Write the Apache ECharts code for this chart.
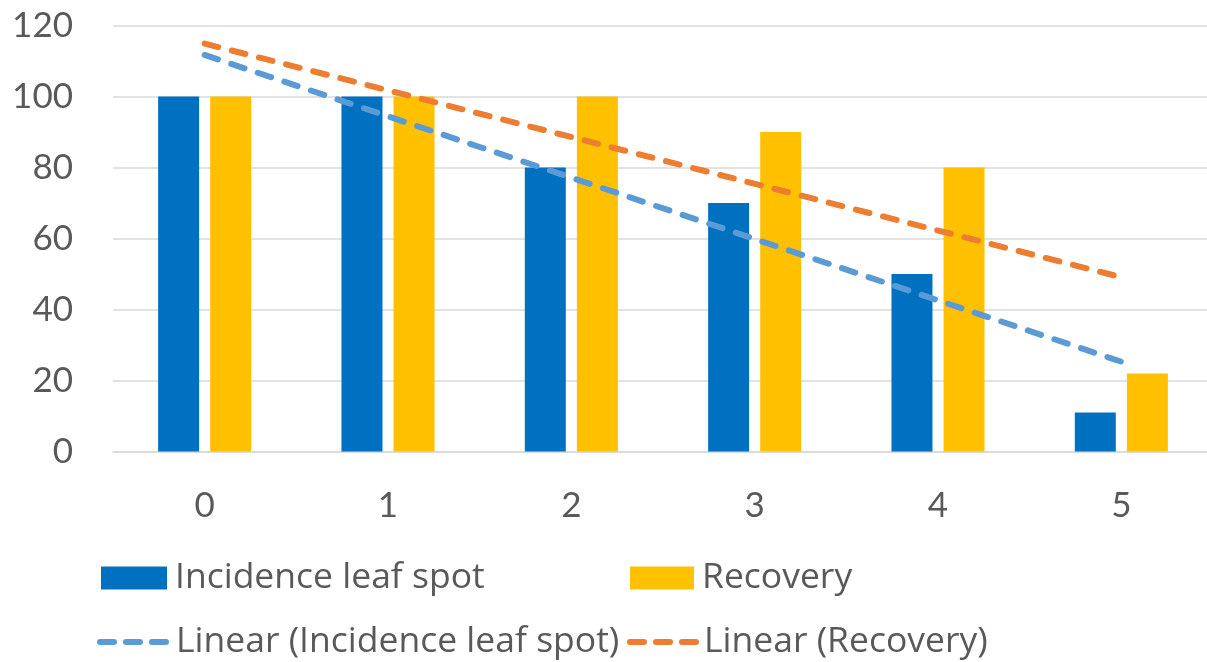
<!DOCTYPE html>
<html>
<head>
<meta charset="utf-8">
<script src="https://cdn.jsdelivr.net/npm/echarts@6/dist/echarts.min.js"></script>
<style>html,body{margin:0;padding:0;background:#fff;overflow:hidden}#c{width:1220px;height:662px}</style>
</head>
<body>
<div id="c"></div>
<script>
var categories = ['0', '1', '2', '3', '4', '5'];
var incidence = [100, 100, 80, 70, 50, 11];
var recovery = [100, 100, 100, 90, 80, 22];
// trend line endpoints: [x, y]
var trendIncidence = [[0, 111.7], [5, 25.3]];
var trendRecovery = [[0, 114.9], [5, 49.1]];
var yTicks = { min: 0, max: 120, interval: 20 };

var FONT = 'Lato';
var LFONT = 'Open Sans';
var TXT = '#595959';
var chart = echarts.init(document.getElementById('c'), null, { renderer: 'canvas' });
var legendText = { color: TXT, fontSize: 35.5, fontFamily: LFONT, padding: [0, 0, 0, 3] };
var legendText2 = { color: TXT, fontSize: 35.5, fontFamily: LFONT, padding: 0 };
var dash = { width: 6, type: [14, 14], cap: 'round' };
var legDash = { width: 6, type: [14, 12], cap: 'round' };
var hideSym = { opacity: 0 };
chart.setOption({
  animation: false,
  textStyle: { fontFamily: FONT },
  grid: { left: 113, top: 25.5, right: 7, height: 426, containLabel: false },
  xAxis: [{
    type: 'category', data: categories,
    axisLine: { lineStyle: { color: '#d9d9d9', width: 1.5 } },
    axisTick: { show: false },
    axisLabel: { color: TXT, fontSize: 35, fontFamily: FONT, margin: 37 }
  }, {
    type: 'value', min: -0.5, max: 5.5, show: false
  }],
  yAxis: {
    type: 'value', min: yTicks.min, max: yTicks.max, interval: yTicks.interval,
    axisLine: { show: false }, axisTick: { show: false },
    splitLine: { lineStyle: { color: '#d9d9d9', width: 1.5 } },
    axisLabel: { color: TXT, fontSize: 35, fontFamily: FONT, margin: 40 }
  },
  legend: [
    { data: [{ name: 'Incidence leaf spot', icon: 'rect' }], left: 101, top: 560, itemWidth: 66, itemHeight: 23, itemGap: 0, textStyle: legendText, padding: 0 },
    { data: [{ name: 'Recovery', icon: 'rect' }], left: 630, top: 560, itemWidth: 64, itemHeight: 23, itemGap: 0, textStyle: legendText, padding: 0 },
    { data: ['Linear (Incidence leaf spot)'], left: 97, top: 624, itemWidth: 71, itemHeight: 23, itemGap: 0, textStyle: legendText2, padding: 0,
      itemStyle: hideSym, lineStyle: legDash },
    { data: ['Linear (Recovery)'], left: 627, top: 624, itemWidth: 69, itemHeight: 23, itemGap: 0, textStyle: legendText2, padding: 0,
      itemStyle: hideSym, lineStyle: legDash }
  ],
  series: [
    { name: 'Incidence leaf spot', type: 'bar', data: incidence, barWidth: 41, barGap: '27%', itemStyle: { color: '#0070C0' } },
    { name: 'Recovery', type: 'bar', data: recovery, barWidth: 41, barGap: '27%', itemStyle: { color: '#FFC000' } },
    { name: 'Linear (Incidence leaf spot)', type: 'line', xAxisIndex: 1, data: trendIncidence, symbol: 'none', z: 5,
      lineStyle: Object.assign({ color: '#5B9BD5' }, dash), itemStyle: { color: '#5B9BD5' } },
    { name: 'Linear (Recovery)', type: 'line', xAxisIndex: 1, data: trendRecovery, symbol: 'none', z: 5,
      lineStyle: Object.assign({ color: '#ED7D31' }, dash), itemStyle: { color: '#ED7D31' } }
  ]
});
</script>
</body>
</html>
